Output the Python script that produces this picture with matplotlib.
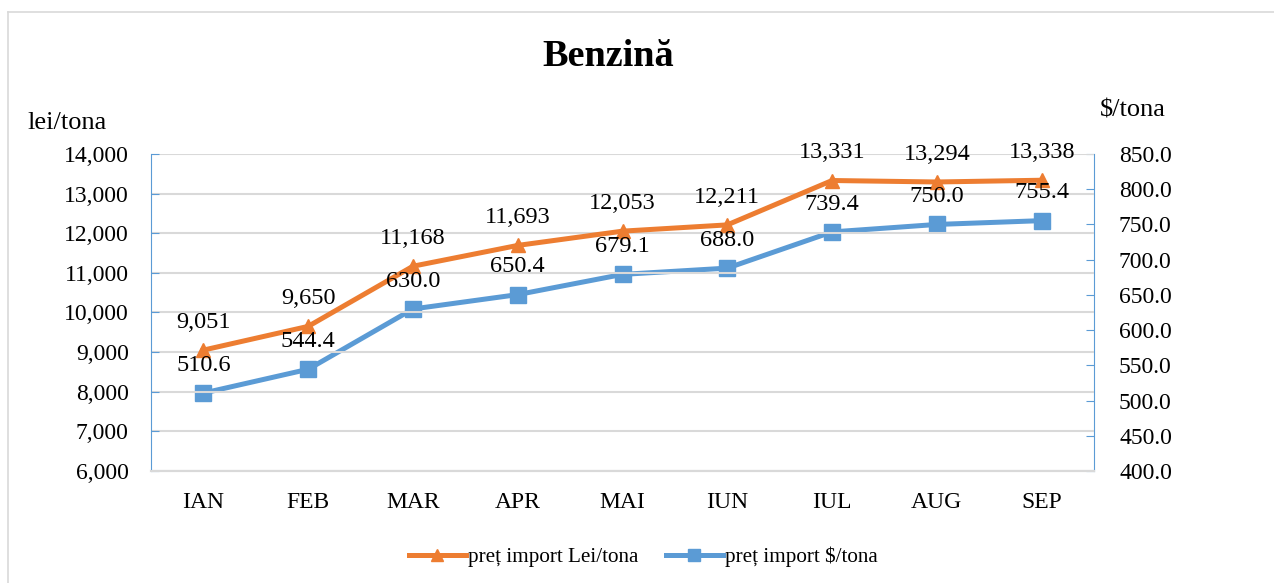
import matplotlib
matplotlib.use('agg')
import matplotlib.pyplot as plt
from matplotlib.lines import Line2D

plt.rcParams['font.family'] = ['Liberation Serif', 'DejaVu Serif']

months = ['IAN', 'FEB', 'MAR', 'APR', 'MAI', 'IUN', 'IUL', 'AUG', 'SEP']
lei_tona = [9051, 9650, 11168, 11693, 12053, 12211, 13331, 13294, 13338]
usd_tona = [510.6, 544.4, 630.0, 650.4, 679.1, 688.0, 739.4, 750.0, 755.4]
lei_ticks = [6000, 7000, 8000, 9000, 10000, 11000, 12000, 13000, 14000]
usd_ticks = [400, 450, 500, 550, 600, 650, 700, 750, 800, 850]

orange = '#ED7D31'
blue = '#5B9BD5'
grid = '#D9D9D9'

fig = plt.figure(figsize=(12.74, 5.83), dpi=100)
ax = fig.add_axes([151/1274, 1-471/583, 943/1274, 317/583])
ax2 = ax.twinx()

x = list(range(len(months)))

# grid on left axis
ax.set_ylim(6000, 14000)
ax.set_yticks(lei_ticks)
ax.set_yticklabels([f'{v:,}' for v in lei_ticks])
ax.yaxis.grid(True, color=grid, lw=1.5)
ax.set_axisbelow(True)
ax.set_xlim(-0.5, len(months) - 0.5)
ax.set_xticks(x)
ax.set_xticklabels(months)
ax.tick_params(axis='x', length=0, pad=15, labelsize=17)
ax.tick_params(axis='y', direction='in', length=6, color=blue, pad=16, labelsize=17)

ax2.set_ylim(400, 850)
ax2.set_yticks(usd_ticks)
ax2.set_yticklabels([f'{v:.1f}' for v in usd_ticks])
ax2.tick_params(axis='y', direction='in', length=6, color=blue, pad=18, labelsize=17)

for a in (ax, ax2):
    a.spines['top'].set_visible(False)
    a.spines['left'].set_color(blue)
    a.spines['right'].set_color(blue)
    a.spines['bottom'].set_color(grid)
    a.spines['bottom'].set_linewidth(1.5)
ax.spines['right'].set_visible(False)
ax2.spines['left'].set_visible(False)

# blue on secondary axis, orange on primary; orange drawn above
ax.set_zorder(ax2.get_zorder() + 1)
ax.patch.set_visible(False)

ax2.plot(x, usd_tona, color=blue, lw=3.6, marker='s', markersize=11, zorder=3)
ax.plot(x, lei_tona, color=orange, lw=3.6, marker='^', markersize=9.5, zorder=3)

for xi, v in zip(x, lei_tona):
    ax.annotate(f'{v:,}', (xi, v), xytext=(0, 16), textcoords='offset points',
                ha='center', va='baseline', fontsize=17.5, color='black', zorder=5)
for xi, v in zip(x, usd_tona):
    ax.annotate(f'{v:.1f}', (xi, ax.transData.inverted().transform(
                    ax2.transData.transform((xi, v)))[1]),
                xytext=(0, 16), textcoords='offset points',
                ha='center', va='baseline', fontsize=17.5, color='black', zorder=6)

fig.text(608/1274, 1-57/583, 'Benzină', ha='center', va='center',
         fontsize=27.5, fontweight='bold')
fig.text(27/1274, 1-123/583, 'lei/tona', ha='left', va='center', fontsize=19)
fig.text(1133/1274, 1-111/583, '$/tona', ha='center', va='center', fontsize=19)

handles = [Line2D([], [], color=orange, lw=3.6, marker='^', markersize=8),
           Line2D([], [], color=blue, lw=3.6, marker='s', markersize=9)]
fig.legend(handles, ['preț import Lei/tona', 'preț import $/tona'],
           loc='center', bbox_to_anchor=(0.505, 1-557/583), ncol=2,
           frameon=False, fontsize=15.2, handlelength=2.7, handletextpad=0.1,
           columnspacing=1.3)

# chart border (top and left edges visible)
fig.add_artist(Line2D([8/1274, 1], [1-12/583, 1-12/583], color=grid, lw=1.2,
                      transform=fig.transFigure))
fig.add_artist(Line2D([8/1274, 8/1274], [0, 1-12/583], color=grid, lw=1.2,
                      transform=fig.transFigure))

fig.savefig('out.png', dpi=100)
